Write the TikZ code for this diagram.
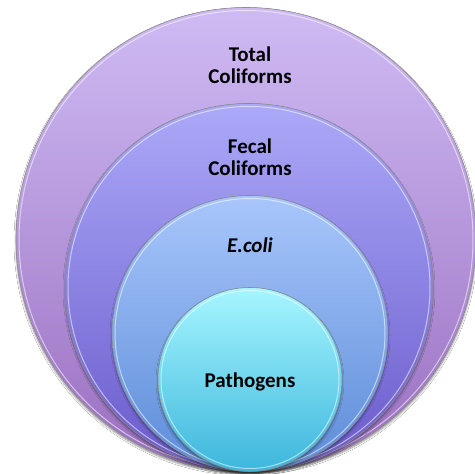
\documentclass[tikz,border=0pt]{standalone}
\usepackage{fontspec}
\setmainfont{Carlito}
\usetikzlibrary{shadows.blur}
\definecolor{tTop}{HTML}{CFBBF4}
\definecolor{tBot}{HTML}{9A6FC0}
\definecolor{fTop}{HTML}{ABA9F8}
\definecolor{fBot}{HTML}{6A5ACB}
\definecolor{eTop}{HTML}{A8C6FB}
\definecolor{eBot}{HTML}{5C8CD8}
\definecolor{pTop}{HTML}{A6F6FF}
\definecolor{pBot}{HTML}{3DB6DC}
\tikzset{
  disc/.style={draw=black!45, line width=0.6pt,
    blur shadow={shadow xshift=0pt, shadow yshift=-2pt, shadow blur radius=2pt, shadow opacity=45}},
  rim/.style={draw=white, line width=1pt, opacity=0.55},
  lbl/.style={font=\bfseries\fontsize{21}{22}\selectfont, align=center, text=black, inner sep=0pt},
}
\begin{document}
\begin{tikzpicture}[x=1pt,y=-1pt]
\useasboundingbox (0,0) rectangle (475,474);
\fill[white] (0,0) rectangle (475,474);
% outer
\path[disc, top color=tTop, bottom color=tBot] (246,239.5) ellipse (230 and 232);
\draw[rim] (246,239.5) ellipse (227 and 229);
% fecal
\path[disc, top color=fTop, bottom color=fBot] (249,287.5) circle (184);
\draw[rim] (249,287.5) circle (181);
% ecoli
\path[disc, top color=eTop, bottom color=eBot] (250,333.5) circle (138);
\draw[rim] (250,333.5) circle (135);
% pathogens
\path[disc, top color=pTop, bottom color=pBot] (250,379.5) circle (92);
\draw[rim] (250,379.5) circle (89);
% labels
\node[lbl, anchor=base] (total) at (250,83) {Total\\Coliforms};
\node[lbl, anchor=base] (fecal) at (250,175) {Fecal\\Coliforms};
\node[lbl, anchor=base, font=\bfseries\itshape\fontsize{21}{22}\selectfont] (ecoli) at (250,252) {E.coli};
\node[lbl, anchor=base] (path) at (250,387) {Pathogens};
\end{tikzpicture}
\end{document}
